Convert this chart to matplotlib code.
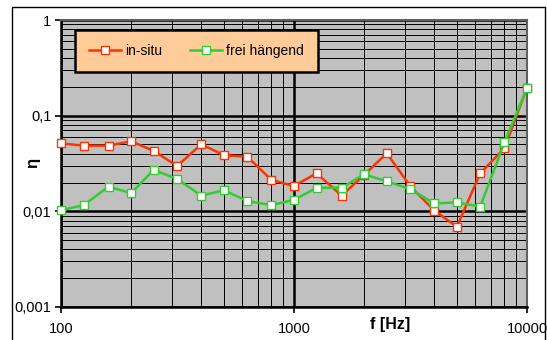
import matplotlib.pyplot as plt
from matplotlib.patches import Rectangle
from matplotlib.ticker import FixedLocator, FixedFormatter, LogLocator, NullFormatter

plt.rcParams['font.family'] = ['Liberation Sans', 'DejaVu Sans']

# third-octave band centre frequencies
freq = [100, 125, 160, 200, 250, 315, 400, 500, 630, 800, 1000,
        1250, 1600, 2000, 2500, 3150, 4000, 5000, 6300, 8000, 10000]

eta_insitu = [0.0514, 0.0486, 0.0486, 0.054, 0.0428, 0.0298, 0.0502, 0.0386, 0.0373, 0.0213, 0.0184,
              0.025, 0.0146, 0.024, 0.0405, 0.0184, 0.0102, 0.0069, 0.025, 0.0456, 0.196]
eta_frei = [0.0103, 0.0116, 0.0181, 0.0155, 0.0271, 0.0218, 0.0146, 0.0166, 0.0128, 0.0116, 0.0132,
            0.0176, 0.0176, 0.0244, 0.0206, 0.0171, 0.0121, 0.0124, 0.0112, 0.0527, 0.194]

xticks = [100, 1000, 10000]
xticklabels = ['100', '1000', '10000']
yticks = [0.001, 0.01, 0.1, 1]
yticklabels = ['0,001', '0,01', '0,1', '1']

fig = plt.figure(figsize=(5.47, 3.40), dpi=100)
ax = fig.add_axes([61/547, 1 - 307/340, 466/547, 287/340])
ax.set_facecolor('#C0C0C0')

ax.set_xscale('log')
ax.set_yscale('log')
ax.set_xlim(100, 10000)
ax.set_ylim(0.001, 1)

ax.xaxis.set_major_locator(FixedLocator(xticks))
ax.xaxis.set_major_formatter(FixedFormatter(xticklabels))
ax.yaxis.set_major_locator(FixedLocator(yticks))
ax.yaxis.set_major_formatter(FixedFormatter(yticklabels))
ax.xaxis.set_minor_locator(LogLocator(base=10, subs=range(2, 10)))
ax.yaxis.set_minor_locator(LogLocator(base=10, subs=range(2, 10)))
ax.xaxis.set_minor_formatter(NullFormatter())
ax.yaxis.set_minor_formatter(NullFormatter())

ax.grid(which='major', color='black', linewidth=1.8)
ax.grid(which='minor', color='black', linewidth=0.7)
ax.set_axisbelow(True)

ax.tick_params(which='major', direction='out', length=4, width=1.2, labelsize=10.5)
ax.tick_params(axis='x', which='major', pad=7)
ax.tick_params(axis='y', which='major', pad=3)
ax.tick_params(which='minor', length=0)

for s in ['left', 'bottom']:
    ax.spines[s].set_linewidth(1.8)
for s in ['top', 'right']:
    ax.spines[s].set_color('#606060')
    ax.spines[s].set_linewidth(1.5)

ax.plot(freq, eta_insitu, color='#FF3300', linewidth=1.8, marker='s', markersize=5.8,
        markerfacecolor='white', markeredgecolor='#FF3300', markeredgewidth=1.0,
        label='in-situ', clip_on=False, zorder=3)
ax.plot(freq, eta_frei, color='#33CC33', linewidth=1.8, marker='s', markersize=5.8,
        markerfacecolor='white', markeredgecolor='#33CC33', markeredgewidth=1.0,
        label='frei hängend', clip_on=False, zorder=4)

ax.set_xlabel('f [Hz]', fontsize=11.5, fontweight='bold')
ax.xaxis.set_label_coords(329/466, -0.035)
ax.set_ylabel('η', fontsize=12, fontweight='bold')
ax.yaxis.set_label_coords(-21/466, 1 - 143/287)

leg = ax.legend(loc='upper left', bbox_to_anchor=(14/466, 1 - 10/287), ncol=2,
                fontsize=10, frameon=True, fancybox=False, borderpad=1.0,
                borderaxespad=0, columnspacing=2.0, handlelength=2.3,
                handletextpad=0.3)
leg.get_frame().set_facecolor('#FFCC99')
leg.get_frame().set_edgecolor('black')
leg.get_frame().set_linewidth(1.8)
leg.get_frame().set_alpha(1)

# outer chart frame
fig.patches.append(Rectangle((12/547, -0.01), 533/547, 1 - 7/340 + 0.01,
                             transform=fig.transFigure, fill=False,
                             edgecolor='black', linewidth=1.0))

fig.savefig('out.png', dpi=100)
